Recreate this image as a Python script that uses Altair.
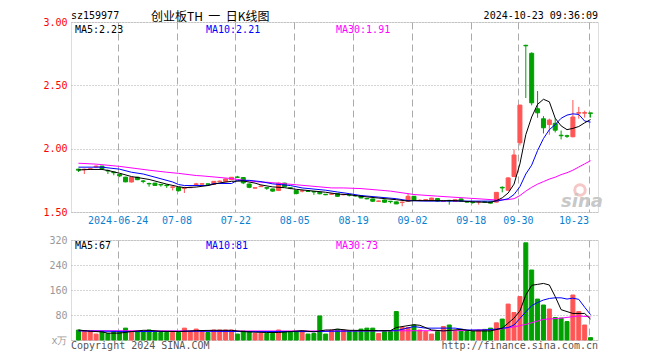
import altair as alt
import pandas as pd

# ---------------- data ----------------
date_ticks = [7, 17, 27, 37, 47, 57, 67, 75, 87]
date_labels = ["2024-06-24", "07-08", "07-22", "08-05", "08-19", "09-02", "09-18", "09-30", "10-23"]

opens = [1.838, 1.834, 1.836, 1.856, 1.862, 1.828, 1.815, 1.798, 1.775, 1.737,
         1.775, 1.745, 1.725, 1.728, 1.718, 1.712, 1.695, 1.694, 1.687, 1.692,
         1.718, 1.720, 1.722, 1.718, 1.740, 1.740, 1.755, 1.776, 1.772, 1.721,
         1.688, 1.700, 1.692, 1.682, 1.670, 1.728, 1.691, 1.670, 1.665, 1.665,
         1.662, 1.656, 1.640, 1.640, 1.645, 1.636, 1.637, 1.630, 1.630, 1.607,
         1.603, 1.584, 1.595, 1.585, 1.580, 1.575, 1.585, 1.624, 1.590, 1.595,
         1.590, 1.606, 1.583, 1.592, 1.583, 1.603, 1.581, 1.578, 1.579, 1.581,
         1.580, 1.578, 1.695, 1.672, 1.780, 2.046, 2.816, 2.753, 2.315, 2.236,
         2.190, 2.200, 2.106, 2.102, 2.094, 2.280, 2.280, 2.282]
closes = [1.830, 1.838, 1.842, 1.862, 1.842, 1.824, 1.810, 1.785, 1.738, 1.772,
          1.755, 1.742, 1.722, 1.710, 1.714, 1.708, 1.698, 1.668, 1.690, 1.695,
          1.722, 1.723, 1.719, 1.742, 1.744, 1.761, 1.774, 1.774, 1.730, 1.695,
          1.692, 1.705, 1.688, 1.665, 1.728, 1.700, 1.688, 1.645, 1.668, 1.662,
          1.658, 1.644, 1.636, 1.643, 1.624, 1.639, 1.633, 1.627, 1.611, 1.604,
          1.585, 1.587, 1.577, 1.582, 1.564, 1.578, 1.624, 1.593, 1.593, 1.598,
          1.610, 1.586, 1.586, 1.588, 1.597, 1.586, 1.578, 1.575, 1.582, 1.578,
          1.570, 1.655, 1.690, 1.769, 1.950, 2.344, 2.812, 2.362, 2.283, 2.165,
          2.226, 2.146, 2.102, 2.098, 2.250, 2.285, 2.285, 2.279]
highs = [1.842, 1.842, 1.845, 1.868, 1.864, 1.835, 1.818, 1.800, 1.778, 1.776,
         1.778, 1.753, 1.732, 1.730, 1.720, 1.718, 1.700, 1.696, 1.700, 1.698,
         1.730, 1.726, 1.724, 1.744, 1.748, 1.763, 1.776, 1.785, 1.776, 1.724,
         1.695, 1.712, 1.695, 1.684, 1.732, 1.730, 1.694, 1.672, 1.672, 1.668,
         1.665, 1.658, 1.642, 1.646, 1.647, 1.642, 1.639, 1.632, 1.632, 1.610,
         1.605, 1.590, 1.597, 1.587, 1.582, 1.583, 1.645, 1.626, 1.600, 1.602,
         1.612, 1.608, 1.592, 1.594, 1.600, 1.605, 1.584, 1.580, 1.585, 1.584,
         1.582, 1.658, 1.702, 1.775, 1.995, 2.346, 2.820, 2.760, 2.455, 2.257,
         2.237, 2.240, 2.143, 2.110, 2.384, 2.330, 2.300, 2.283]
lows = [1.816, 1.800, 1.832, 1.850, 1.840, 1.800, 1.790, 1.775, 1.735, 1.733,
        1.752, 1.727, 1.700, 1.708, 1.700, 1.690, 1.670, 1.662, 1.650, 1.690,
        1.710, 1.718, 1.716, 1.716, 1.736, 1.738, 1.753, 1.770, 1.720, 1.688,
        1.686, 1.698, 1.675, 1.660, 1.665, 1.695, 1.680, 1.640, 1.655, 1.658,
        1.635, 1.640, 1.633, 1.636, 1.620, 1.632, 1.622, 1.622, 1.608, 1.600,
        1.580, 1.580, 1.574, 1.568, 1.562, 1.545, 1.583, 1.590, 1.586, 1.585,
        1.588, 1.583, 1.580, 1.558, 1.580, 1.583, 1.575, 1.565, 1.558, 1.575,
        1.567, 1.575, 1.655, 1.668, 1.776, 2.025, 2.400, 2.342, 2.244, 2.120,
        2.110, 2.128, 2.073, 2.085, 2.090, 2.237, 2.245, 2.245]
volumes = [32, 27, 27, 19, 27, 21, 27, 27, 38, 27,
           27, 27, 32, 24, 24, 24, 24, 24, 38, 27,
           35, 27, 24, 32, 32, 32, 32, 19, 29, 27,
           21, 21, 21, 21, 32, 27, 27, 27, 27, 19,
           21, 77, 19, 32, 34, 32, 27, 27, 35, 38,
           38, 21, 27, 27, 91, 40, 40, 48, 32, 27,
           19, 27, 43, 48, 27, 34, 27, 27, 32, 34,
           38, 55, 67, 115, 88, 139, 311, 224, 131, 112,
           99, 72, 70, 59, 144, 91, 48, 7.5]

# price moving averages (index, value)
ma5_k = [0, 2, 4, 5, 7, 9, 12, 15, 17, 18, 20, 22, 24, 26, 28, 30, 31, 33, 35, 37, 40, 42, 44, 46, 48,
         51, 54, 56, 57, 62, 64, 67, 70, 71, 72, 73, 74, 75, 76, 77, 78, 79, 80, 81, 82, 83, 84, 85, 86, 87]
ma5_v = [1.832, 1.836, 1.836, 1.828, 1.806, 1.780, 1.757, 1.720, 1.700, 1.692, 1.697, 1.709, 1.730, 1.742,
         1.745, 1.728, 1.714, 1.698, 1.692, 1.679, 1.665, 1.656, 1.642, 1.636, 1.624, 1.610, 1.597, 1.586,
         1.590, 1.590, 1.590, 1.580, 1.576, 1.590, 1.612, 1.650, 1.720, 1.880, 2.110, 2.250, 2.350, 2.390,
         2.370, 2.240, 2.180, 2.150, 2.160, 2.175, 2.204, 2.230]
ma10_k = [0, 4, 7, 9, 11, 13, 16, 17, 18, 22, 23, 26, 27, 29, 31, 33, 36, 38, 42, 44, 46, 48, 54, 56, 59,
          66, 71, 72, 73, 74, 75, 76, 77, 78, 79, 80, 81, 82, 83, 84, 85, 86, 87]
ma10_v = [1.854, 1.854, 1.838, 1.814, 1.800, 1.775, 1.737, 1.717, 1.709, 1.709, 1.725, 1.725, 1.750, 1.750,
          1.740, 1.722, 1.709, 1.690, 1.672, 1.658, 1.645, 1.630, 1.605, 1.590, 1.586, 1.586, 1.586, 1.594,
          1.605, 1.638, 1.700, 1.800, 1.870, 1.985, 2.080, 2.150, 2.190, 2.240, 2.265, 2.275, 2.270, 2.218,
          2.210]
ma30_k = [0, 3, 7, 12, 15, 17, 20, 21, 26, 27, 31, 32, 37, 43, 45, 48, 53, 57, 61, 66, 71, 73, 74, 75, 76,
          77, 78, 79, 80, 81, 82, 83, 84, 85, 86, 87]
ma30_v = [1.885, 1.878, 1.860, 1.830, 1.814, 1.805, 1.788, 1.785, 1.764, 1.757, 1.735, 1.735, 1.715, 1.690,
          1.690, 1.685, 1.665, 1.638, 1.625, 1.610, 1.595, 1.598, 1.605, 1.630, 1.665, 1.695, 1.720, 1.740,
          1.760, 1.775, 1.795, 1.810, 1.830, 1.855, 1.880, 1.905]

# volume moving averages
vma5_k = [0, 2, 4, 5, 7, 9, 11, 12, 14, 17, 20, 23, 26, 28, 30, 32, 34, 36, 38, 40, 42, 43, 44, 46, 51,
          53, 54, 57, 58, 60, 62, 65, 67, 70, 72, 74, 75, 76, 77, 78, 79, 80, 81, 82, 84, 86, 87]
vma5_v = [32, 28, 26, 22, 22, 27, 31, 31, 28, 27, 30, 31, 31, 27, 25, 24, 24, 27, 30, 26, 32, 32, 35, 31,
          30, 30, 40, 49, 47, 32, 29, 34, 29, 29, 38, 70, 93, 144, 175, 178, 181, 176, 139, 97, 85, 85, 67]
vma10_k = [0, 10, 20, 30, 40, 43, 54, 57, 59, 64, 66, 69, 71, 73, 74, 75, 76, 77, 78, 79, 80, 81, 82, 83,
           84, 85, 86, 87]
vma10_v = [29, 27, 28, 27, 27, 28, 30, 43, 38, 38, 32, 32, 35, 40, 48, 69, 90, 110, 120, 128, 133, 135, 135,
           131, 134, 130, 105, 81]
vma30_k = [0, 20, 43, 65, 71, 74, 76, 79, 82, 85, 87]
vma30_v = [30, 29, 29, 30, 33, 42, 50, 66, 70, 77, 74]

# ---------------- styling ----------------
FONT = "DejaVu Sans Mono"
UP, DOWN = "#ff5555", "#00a000"
W, H_TOP, H_VOL = 527, 190, 100

trend = ["up" if c >= o else "down" for o, c in zip(opens, closes)]
candles = pd.DataFrame({"k": list(range(len(opens))), "open": opens, "high": highs, "low": lows,
                        "close": closes, "vol": volumes, "trend": trend})
ma = lambda ks, vs: pd.DataFrame({"k": ks, "v": vs})

color_scale = alt.Scale(domain=["up", "down"], range=[UP, DOWN])
xscale = alt.Scale(domain=[-0.41667, 87.41667], nice=False, zero=False)
yscale = alt.Scale(domain=[1.5, 3.0], nice=False, zero=False)
vscale = alt.Scale(domain=[0, 320], nice=False)

label_expr = ("[" + ",".join("'%s'" % s for s in date_labels) + "][indexof(["
              + ",".join(str(k) for k in date_ticks) + "], datum.value)]")

x_axis_top = alt.Axis(values=date_ticks, labelExpr=label_expr, grid=True, gridDash=[7, 4],
                      gridColor="#aaaaaa", tickOffset=-2, ticks=False, tickSize=0, domain=False,
                      labelColor="#0a7fd0", labelFont=FONT, labelFontSize=10, labelPadding=3,
                      labelFlush=12, title=None)
x_axis_vol = alt.Axis(values=date_ticks, grid=True, gridDash=[7, 4], gridColor="#aaaaaa",
                      tickOffset=-2, ticks=False, tickSize=0, domain=False, labels=False, title=None)
y_axis_top = alt.Axis(values=[1.5, 2.0, 2.5, 3.0], format=".2f", grid=True, gridDash=[1, 2],
                      gridColor="#aaaaaa", ticks=False, tickSize=0, domain=False, labelColor="#ff0000",
                      labelFont=FONT, labelFontSize=10, labelPadding=4, title=None)
y_axis_vol = alt.Axis(values=[0, 80, 160, 240, 320], labelExpr="datum.value == 0 ? 'x万' : datum.label",
                      grid=True, gridDash=[1, 2], gridColor="#aaaaaa", ticks=False, tickSize=0,
                      domain=False, labelColor="#999999", labelFont=FONT, labelFontSize=10,
                      labelPadding=4, title=None)

XT = alt.X("k:Q", scale=xscale, axis=x_axis_top)
XV = alt.X("k:Q", scale=xscale, axis=x_axis_vol)
COL = alt.Color("trend:N", scale=color_scale, legend=None)
STR = alt.Stroke("trend:N", scale=color_scale, legend=None)


def txt(s, x, y, color, size=10, align="left", font=FONT, **kw):
    return alt.Chart(pd.DataFrame({"t": [s]})).mark_text(
        align=align, baseline="middle", font=font, fontSize=size, color=color, **kw
    ).encode(x=alt.value(x), y=alt.value(y), text="t:N")


def line(df, color, yax, ysc, xenc):
    return alt.Chart(df).mark_line(color=color, strokeWidth=1).encode(
        x=xenc, y=alt.Y("v:Q", scale=ysc, axis=yax))


wick = alt.Chart(candles).mark_rule(strokeWidth=1).encode(
    x=XT, y=alt.Y("low:Q", scale=yscale, axis=y_axis_top), y2="high:Q", color=COL)
body = alt.Chart(candles).mark_bar(size=4, strokeWidth=1).encode(
    x=XT, y=alt.Y("open:Q", scale=yscale, axis=y_axis_top), y2="close:Q", color=COL, stroke=STR)

logo = alt.Chart(pd.DataFrame({"t": [0]})).mark_point(
    shape="circle", size=110, filled=False, stroke="#f2b0b0", strokeWidth=3, opacity=0.7
).encode(x=alt.value(509), y=alt.value(168))

NB = "\u00a0"
top = alt.layer(
    wick, body,
    line(ma(ma30_k, ma30_v), "#ff00ff", y_axis_top, yscale, XT),
    line(ma(ma10_k, ma10_v), "#0000ff", y_axis_top, yscale, XT),
    line(ma(ma5_k, ma5_v), "#000000", y_axis_top, yscale, XT),
    logo,
    txt("sina", 511, 180, "#c8c8c8", size=18, align="center", font="DejaVu Sans",
        fontStyle="italic", fontWeight="bold"),
    txt("MA5:2.23", 4, 7.5, "#000000"),
    txt("MA10:2.21", 135, 7.5, "#0000ff"),
    txt("MA30:1.91", 265, 7.5, "#ff00ff"),
    txt("sz159977", 0, -6, "#000000"),
    txt("创业板TH" + NB * 2 + "一" + NB * 2 + "日K线图", 80, -5.5, "#000000", size=12,
        font="Noto Sans CJK SC"),
    txt("2024-10-23 09:36:09", 527, -6, "#000000", align="right"),
).properties(width=W, height=H_TOP)

vbar = alt.Chart(candles).mark_bar(size=4, strokeWidth=1).encode(
    x=XV, y=alt.Y("vol:Q", scale=vscale, axis=y_axis_vol, stack=None), color=COL, stroke=STR)

vol = alt.layer(
    vbar,
    line(ma(vma30_k, vma30_v), "#ff00ff", y_axis_vol, vscale, XV),
    line(ma(vma10_k, vma10_v), "#0000ff", y_axis_vol, vscale, XV),
    line(ma(vma5_k, vma5_v), "#000000", y_axis_vol, vscale, XV),
    txt("MA5:67", 4, 6, "#000000"),
    txt("MA10:81", 135, 6, "#0000ff"),
    txt("MA30:73", 265, 6, "#ff00ff"),
    txt("Copyright 2024 SINA.COM", 0, 106, "#555555"),
    txt("http://finance.sina.com.cn", 527, 106, "#555555", align="right"),
).properties(width=W, height=H_VOL)

chart = alt.vconcat(top, vol, spacing=8).properties(
    padding={"left": 34, "top": 2, "right": 0, "bottom": 0}
).configure_view(stroke="#999999", strokeWidth=1).configure(background="white")

chart.save("out.html", embed_options={"renderer": "svg", "actions": False})
